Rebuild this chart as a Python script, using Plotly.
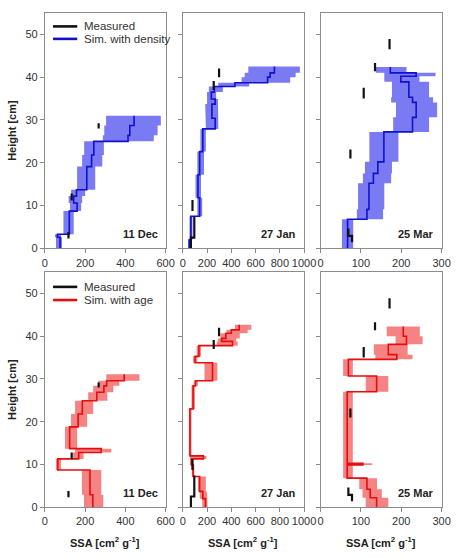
import plotly.graph_objects as go

W, H = 471, 559

# ---------------- DATA ----------------
# Measured SSA (same for both rows): value, layer bottom, layer top
dec_meas_v = [117, 133, 267]
dec_meas_b = [2.3, 11.2, 28.0]
dec_meas_t = [3.8, 12.8, 29.2]

jan_meas_v = [67, 95, 80, 255, 299]
jan_meas_b = [0.0, 2.5, 8.7, 37.0, 40.0]
jan_meas_t = [2.5, 7.4, 11.3, 39.1, 42.0]

mar_meas_v = [78, 69, 74, 107, 135, 171]
mar_meas_b = [1.4, 2.9, 21.0, 35.0, 41.4, 46.5]
mar_meas_t = [2.9, 4.6, 23.1, 37.5, 43.3, 48.9]

# Simulation with density
dec_den_h = [0, 2.6, 3.3, 8.7, 10.6, 12.2, 13.7, 19.1, 21.8, 25.0, 26.4, 28.7, 31.0]
dec_den_sim = [75, 62, 121, 160, 143, 157, 208, 232, 243, 413, 422, 443]
dec_den_lo = [55, 50, 92, 125, 118, 130, 160, 185, 195, 288, 295, 304]
dec_den_hi = [85, 80, 143, 180, 185, 200, 250, 285, 293, 541, 560, 576]

jan_den_h = [0, 2.0, 7.5, 11.8, 17.2, 22.6, 27.9, 30.4, 33.7, 34.9, 36.5, 37.8, 38.7, 40.0, 41.0, 42.5]
jan_den_sim = [53, 67, 139, 125, 139, 165, 267, 240, 267, 235, 260, 430, 699, 720, 755]
jan_den_lo = [45, 55, 120, 105, 120, 145, 190, 185, 200, 200, 215, 293, 485, 510, 540]
jan_den_hi = [65, 80, 160, 150, 175, 190, 293, 290, 290, 275, 330, 547, 885, 930, 965]

mar_den_h = [0, 6.8, 9.1, 15.2, 17.5, 20.2, 27.2, 30.6, 34.1, 35.3, 38.9, 40.2, 41.0, 42.4]
mar_den_sim = [67, 115, 120, 131, 142, 157, 228, 237, 228, 219, 199, 237, 173]
mar_den_lo = [53, 90, 93, 105, 110, 121, 180, 187, 175, 177, 158, 158, 137]
mar_den_hi = [81, 155, 158, 175, 177, 193, 269, 289, 279, 269, 245, 285, 213]

# Simulation with age
dec_age_h = [0, 2.9, 8.7, 11.3, 12.8, 13.7, 18.8, 21.8, 24.9, 26.9, 28.4, 29.6, 31.1]
dec_age_sim = [238, 224, 64, 168, 280, 123, 165, 186, 258, 293, 307, 394]
dec_age_lo = [194, 184, 55, 140, 150, 100, 130, 150, 215, 240, 265, 305]
dec_age_hi = [290, 280, 80, 192, 330, 160, 210, 240, 310, 340, 370, 470]

jan_age_h = [0, 2.0, 3.7, 7.2, 9.9, 11.3, 12.0, 23.0, 28.4, 29.6, 33.8, 35.3, 37.8, 38.8, 39.5, 40.7, 41.5, 42.7]
jan_age_sim = [187, 165, 139, 85, 72, 170, 59, 85, 105, 245, 101, 133, 410, 320, 355, 400, 465]
jan_age_lo = [160, 140, 125, 75, 60, 60, 50, 72, 90, 179, 85, 115, 280, 290, 310, 360, 430]
jan_age_hi = [205, 200, 190, 95, 85, 195, 72, 100, 125, 285, 120, 150, 453, 440, 470, 535, 565]

mar_age_h = [0, 2.2, 4.2, 6.8, 9.9, 10.3, 27.0, 30.7, 34.6, 35.7, 38.1, 40.0, 42.3]
mar_age_sim = [139, 123, 115, 66, 105, 66, 139, 69, 189, 168, 213, 205]
mar_age_lo = [112, 104, 96, 56, 56, 56, 112, 56, 136, 132, 186, 164]
mar_age_hi = [168, 152, 140, 80, 128, 80, 168, 80, 228, 216, 253, 246]

x_ranges = [[0, 600], [0, 1000], [0, 300]]
x_ticks = [[0, 200, 400, 600], [0, 200, 400, 600, 800, 1000], [0, 100, 200, 300]]
y_ticks = [0, 10, 20, 30, 40, 50]
dates = ["11 Dec", "27 Jan", "25 Mar"]

# ---------------- HELPERS ----------------
def step_xy(bounds, vals):
    xs, ys = [], []
    for i, v in enumerate(vals):
        xs += [v, v]
        ys += [bounds[i], bounds[i + 1]]
    return xs, ys

def band_xy(bounds, lo, hi):
    x1, y1 = step_xy(bounds, lo)
    x2, y2 = step_xy(bounds, hi)
    return x1 + x2[::-1] + [x1[0]], y1 + y2[::-1] + [y1[0]]

def seg_xy(vals, bots, tops):
    xs, ys = [], []
    prev = None
    for v, b, t in zip(vals, bots, tops):
        if prev is not None and abs(b - prev) > 1e-9:
            xs.append(None); ys.append(None)
        xs += [v, v]; ys += [b, t]
        prev = t
    return xs, ys

def PX(p):
    return p / W

def PY(p):
    return 1 - p / H

BLUE_BAND = "#7a7af2"
BLUE_LINE = "#1111cc"
RED_BAND = "#f58383"
RED_LINE = "#e50d0d"
FONT = "Arial, Liberation Sans, sans-serif"

fig = go.Figure()

panels = [
    (dec_den_h, dec_den_sim, dec_den_lo, dec_den_hi, dec_meas_v, dec_meas_b, dec_meas_t, BLUE_BAND, BLUE_LINE),
    (jan_den_h, jan_den_sim, jan_den_lo, jan_den_hi, jan_meas_v, jan_meas_b, jan_meas_t, BLUE_BAND, BLUE_LINE),
    (mar_den_h, mar_den_sim, mar_den_lo, mar_den_hi, mar_meas_v, mar_meas_b, mar_meas_t, BLUE_BAND, BLUE_LINE),
    (dec_age_h, dec_age_sim, dec_age_lo, dec_age_hi, dec_meas_v, dec_meas_b, dec_meas_t, RED_BAND, RED_LINE),
    (jan_age_h, jan_age_sim, jan_age_lo, jan_age_hi, jan_meas_v, jan_meas_b, jan_meas_t, RED_BAND, RED_LINE),
    (mar_age_h, mar_age_sim, mar_age_lo, mar_age_hi, mar_meas_v, mar_meas_b, mar_meas_t, RED_BAND, RED_LINE),
]

col_px = [(43.3, 168.0), (185.7, 311.0), (328.0, 453.0)]
row_px = [(13.1, 251.0), (275.1, 512.7)]

layout = {}
annotations = []
shapes = []
for k, (h, sim, lo, hi, mv, mb, mt, bc, lc) in enumerate(panels):
    r, c = divmod(k, 3)
    idx = "" if k == 0 else str(k + 1)
    xa, ya = "x" + idx, "y" + idx
    bx, by = band_xy(h, lo, hi)
    fig.add_trace(go.Scatter(x=bx, y=by, fill="toself", fillcolor=bc, mode="lines",
                             line=dict(width=0, color=bc), hoverinfo="skip",
                             showlegend=False, xaxis=xa, yaxis=ya))
    sx, sy = step_xy(h, sim)
    fig.add_trace(go.Scatter(x=sx, y=sy, mode="lines", line=dict(color=lc, width=1.6),
                             showlegend=False, xaxis=xa, yaxis=ya))
    mx, my = seg_xy(mv, mb, mt)
    fig.add_trace(go.Scatter(x=mx, y=my, mode="lines", line=dict(color="#111111", width=2.2),
                             showlegend=False, xaxis=xa, yaxis=ya))
    x0, x1 = col_px[c]
    y0, y1 = row_px[r]
    layout["xaxis" + idx] = dict(
        domain=[PX(x0), PX(x1)], anchor=ya, range=x_ranges[c], tickvals=x_ticks[c],
        ticks="outside", ticklen=4, tickcolor="#888888", showline=True, mirror=True,
        linecolor="#8c8c8c", linewidth=1, showgrid=False, zeroline=False,
        tickfont=dict(family=FONT, size=11, color="#333333"))
    layout["yaxis" + idx] = dict(
        domain=[PY(y1), PY(y0)], anchor=xa, range=[0, 55], tickvals=y_ticks,
        showticklabels=(c == 0), ticks="outside", ticklen=4, tickcolor="#888888",
        showline=True, mirror=True, linecolor="#8c8c8c", linewidth=1,
        showgrid=False, zeroline=False,
        tickfont=dict(family=FONT, size=11, color="#333333"))
    # date label
    annotations.append(dict(text="<b>%s</b>" % dates[c], xref="paper", yref="paper",
                            x=PX(x1 - 6), y=PY(237 if r == 0 else 498.5),
                            xanchor="right", yanchor="middle", showarrow=False,
                            font=dict(family=FONT, size=11, color="#222222")))

# axis titles
for r in range(2):
    y0, y1 = row_px[r]
    annotations.append(dict(text="<b>Height [cm]</b>", xref="paper", yref="paper",
                            x=PX(8.5), y=PY((y0 + y1) / 2), textangle=-90,
                            xanchor="center", yanchor="middle", showarrow=False,
                            font=dict(family=FONT, size=11, color="#222222")))
for c in range(3):
    x0, x1 = col_px[c]
    annotations.append(dict(text="<b>SSA [cm<sup>2</sup> g<sup>-1</sup>]</b>", xref="paper", yref="paper",
                            x=PX((x0 + x1) / 2), y=PY(548), xanchor="center", yanchor="middle",
                            showarrow=False, font=dict(family=FONT, size=11, color="#222222")))

# legends
legend_items = [
    (26.7, "#111111", "Measured"), (39.3, BLUE_LINE, "Sim. with density"),
    (290.0, "#111111", "Measured"), (303.3, RED_LINE, "Sim. with age"),
]
for yy, col, txt in legend_items:
    shapes.append(dict(type="line", xref="paper", yref="paper", x0=PX(51.7), x1=PX(76.7),
                       y0=PY(yy), y1=PY(yy), line=dict(color=col, width=2.6)))
    annotations.append(dict(text=txt, xref="paper", yref="paper", x=PX(81.5), y=PY(yy),
                            xanchor="left", yanchor="middle", showarrow=False,
                            font=dict(family=FONT, size=11.5, color="#333333")))

fig.update_layout(width=W, height=H, margin=dict(l=0, r=0, t=0, b=0),
                  paper_bgcolor="white", plot_bgcolor="white", showlegend=False,
                  annotations=annotations, shapes=shapes, **layout)

fig.write_html("out.html")
